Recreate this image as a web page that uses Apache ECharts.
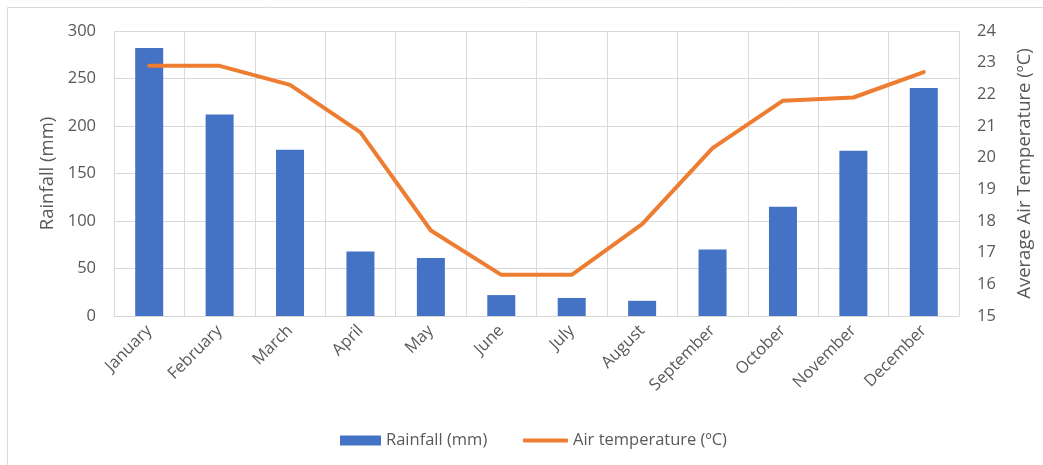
<!DOCTYPE html>
<html>
<head>
<meta charset="utf-8">
<script src="https://cdn.jsdelivr.net/npm/echarts@6/dist/echarts.min.js"></script>
<style>html,body{margin:0;padding:0;background:#fff;}#c{width:1043px;height:465px;}</style>
</head>
<body>
<div id="c"></div>
<script>
const months = ['January','February','March','April','May','June','July','August','September','October','November','December'];
const rainfall = [282, 212, 175, 68, 61, 22, 19, 16, 70, 115, 174, 240];
const temperature = [22.9, 22.9, 22.3, 20.8, 17.7, 16.3, 16.3, 17.9, 20.3, 21.8, 21.9, 22.7];
const rainTicks = {min: 0, max: 300, interval: 50};
const tempTicks = {min: 15, max: 24, interval: 1};

const FONT = '"Open Sans", "Liberation Sans", sans-serif';
const TXT = '#595959';
const GRID = '#d9d9d9';

const chart = echarts.init(document.getElementById('c'), null, {renderer: 'canvas'});
chart.setOption({
  animation: false,
  backgroundColor: '#fff',
  textStyle: {fontFamily: FONT, color: TXT},
  graphic: [{
    type: 'rect', shape: {x: 7.5, y: 7.5, width: 1100, height: 500},
    style: {fill: 'none', stroke: GRID, lineWidth: 1}, silent: true, z: -1
  }],
  grid: {left: 114, right: 84, top: 31, bottom: 149, containLabel: false},
  legend: [{
    top: 427, left: 335, itemWidth: 41, itemHeight: 10,
    textStyle: {fontFamily: FONT, fontSize: 16.5, color: TXT},
    data: [{name: 'Rainfall (mm)', icon: 'rect'}]
  }, {
    top: 427, left: 518, itemWidth: 45, itemHeight: 4,
    textStyle: {fontFamily: FONT, fontSize: 16.5, color: TXT},
    data: [{name: 'Air temperature (ºC)', icon: 'roundRect', itemStyle: {color: '#ED7D31'}}]
  }],
  xAxis: {
    type: 'category', data: months,
    axisLine: {lineStyle: {color: GRID, width: 1}},
    axisTick: {show: false},
    splitLine: {show: true, lineStyle: {color: GRID, width: 1}},
    axisLabel: {rotate: 45, margin: 12, fontSize: 16.5, color: TXT, fontFamily: FONT, interval: 0}
  },
  yAxis: [{
    type: 'value', min: rainTicks.min, max: rainTicks.max, interval: rainTicks.interval,
    name: 'Rainfall (mm)', nameLocation: 'middle', nameGap: 56,
    nameTextStyle: {fontSize: 18.5, color: TXT, fontFamily: FONT},
    axisLine: {show: false}, axisTick: {show: false},
    axisLabel: {margin: 18, fontSize: 16.5, color: TXT, fontFamily: FONT},
    splitLine: {show: true, lineStyle: {color: GRID, width: 1}}
  }, {
    type: 'value', min: tempTicks.min, max: tempTicks.max, interval: tempTicks.interval,
    name: 'Average Air Temperature (ºC)', nameLocation: 'middle', nameGap: 56,
    nameRotate: 90,
    nameTextStyle: {fontSize: 18.5, color: TXT, fontFamily: FONT},
    axisLine: {show: false}, axisTick: {show: false},
    axisLabel: {margin: 18, fontSize: 16.5, color: TXT, fontFamily: FONT},
    splitLine: {show: false}
  }],
  series: [{
    name: 'Rainfall (mm)', type: 'bar', data: rainfall, yAxisIndex: 0,
    barWidth: 28, itemStyle: {color: '#4472C4'}
  }, {
    name: 'Air temperature (ºC)', type: 'line', data: temperature, yAxisIndex: 1,
    symbol: 'none',
    lineStyle: {color: '#ED7D31', width: 4, cap: 'round', join: 'round'},
    itemStyle: {color: '#ED7D31'}
  }]
});
</script>
</body>
</html>
